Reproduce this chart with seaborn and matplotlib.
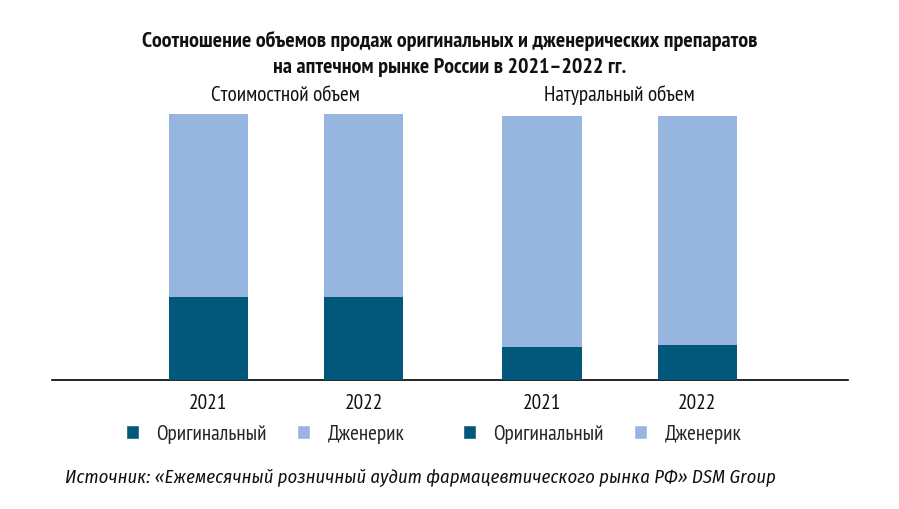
import matplotlib
matplotlib.use("Agg")
import matplotlib.pyplot as plt
from matplotlib.patches import Patch
import seaborn as sns
import pandas as pd

# ---- data ----
groups = ["Стоимостной объем", "Натуральный объем"]
years = ["2021", "2022"]
original = [31.1, 31.1, 12.4, 13.1]   # %
generic = [68.9, 68.9, 86.9, 86.3]    # %
series_names = ["Оригинальный", "Дженерик"]
title = ("Соотношение объемов продаж оригинальных и дженерических препаратов\n"
         "на аптечном рынке России в 2021–2022 гг.")
source = "Источник: «Ежемесячный розничный аудит фармацевтического рынка РФ» DSM Group"

# ---- style ----
C_ORIG = "#02587A"
C_GEN = "#97B6DF"
sns.set_theme(style="white")
FONTS = ["PT Sans Narrow", "DejaVu Sans"]
ITALIC_FONTS = ["Fira Sans Condensed", "Roboto Condensed", "DejaVu Sans"]
plt.rcParams["font.family"] = FONTS
FS = 15.3

YEAR_STEP = 1.0
GROUP_STEP = 2.15
pos = [g * GROUP_STEP + y * YEAR_STEP for g in range(len(groups)) for y in range(len(years))]

df = pd.DataFrame({
    "pos": pos,
    "year": years * len(groups),
    "original": original,
    "total": [o + g for o, g in zip(original, generic)],
})

fig = plt.figure(figsize=(8.99, 5.09), dpi=100)
ax = fig.add_axes([52 / 899, 129 / 509, 796 / 899, 266 / 509])

sns.barplot(data=df, x="pos", y="total", native_scale=True, color=C_GEN,
            width=0.51, saturation=1, ax=ax, errorbar=None, linewidth=0)
sns.barplot(data=df, x="pos", y="original", native_scale=True, color=C_ORIG,
            width=0.51, saturation=1, ax=ax, errorbar=None, linewidth=0)

ax.set_xlim(-1.006, 4.12)
ax.set_ylim(0, 100)
ax.set_xticks(pos)
ax.set_xticklabels(df["year"], fontsize=FS, color="#111111")
ax.tick_params(axis="x", length=0, pad=10)
ax.set_yticks([])
ax.set_xlabel("")
ax.set_ylabel("")
for s in ["top", "left", "right"]:
    ax.spines[s].set_visible(False)
ax.spines["bottom"].set_color("black")
ax.spines["bottom"].set_linewidth(1.2)
ax.spines["bottom"].set_zorder(0.5)

# titles
fig.text(0.5, (509 - 54) / 509, title, ha="center", va="center",
         fontsize=15.8, fontweight="bold", linespacing=1.42, color="#111111")
for gi, gname in enumerate(groups):
    cx = sum(pos[gi * 2: gi * 2 + 2]) / 2
    ax.text(cx, 1.07, gname, transform=ax.get_xaxis_transform(),
            ha="center", va="center", fontsize=FS, color="#111111")

# legends
handles = [Patch(facecolor=C_ORIG), Patch(facecolor=C_GEN)]
for lx in [265 / 899, 602 / 899]:
    fig.legend(handles, series_names, loc="center", bbox_to_anchor=(lx, (509 - 434) / 509),
               ncol=2, frameon=False, fontsize=FS, handlelength=0.62, handleheight=0.62,
               handletextpad=0.8, columnspacing=1.45, borderaxespad=0, borderpad=0)

fig.text(65 / 899, (509 - 478) / 509, source, ha="left", va="center",
         fontsize=13.45, fontstyle="italic", family=ITALIC_FONTS, color="#111111")

fig.savefig("out.png", dpi=100)
